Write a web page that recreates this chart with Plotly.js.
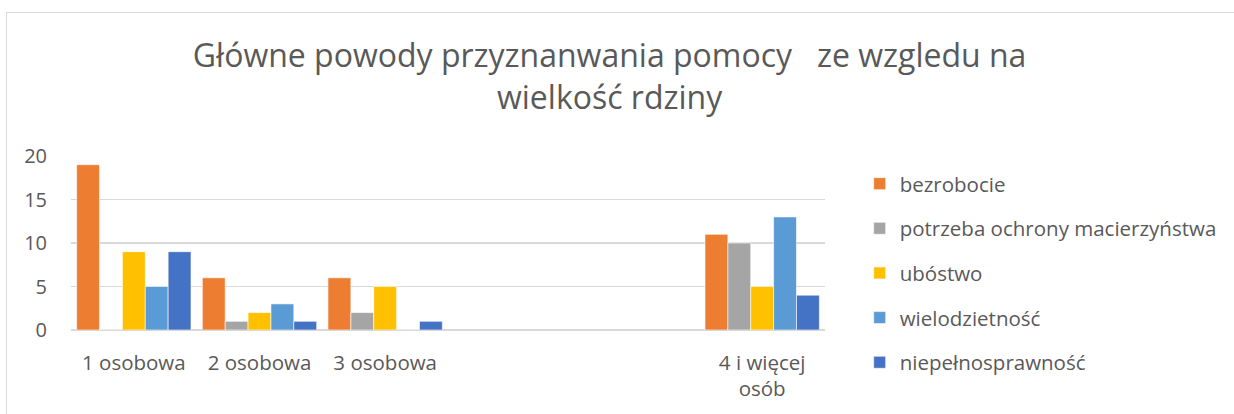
<!DOCTYPE html>
<html>
<head>
<meta charset="utf-8">
<script src="https://cdn.plot.ly/plotly-3.0.1.min.js"></script>
<style>
  html, body { margin: 0; padding: 0; background: #ffffff; }
  #frame { position: absolute; left: 6px; top: 12px; width: 1240px; height: 420px;
           border-left: 1px solid #d9d9d9; border-top: 1px solid #d9d9d9; }
  #chart { position: absolute; left: 0; top: 0; width: 1234px; height: 414px; }
</style>
</head>
<body>
<div id="frame"></div>
<div id="chart"></div>
<script>
const categories = ['1 osobowa', '2 osobowa', '3 osobowa', '', '', '4 i więcej<br>osób'];
const seriesNames = ['bezrobocie', 'potrzeba ochrony macierzyństwa', 'ubóstwo', 'wielodzietność', 'niepełnosprawność'];
const bezrobocie       = [19, 6, 6, null, null, 11];
const potrzebaOchrony  = [0, 1, 2, null, null, 10];
const ubostwo          = [9, 2, 5, null, null, 5];
const wielodzietnosc   = [5, 3, 0, null, null, 13];
const niepelnosprawnosc= [9, 1, 1, null, null, 4];
const colors = ['#ED7D31', '#A5A5A5', '#FFC000', '#5B9BD5', '#4472C4'];
const titleText = 'Główne powody przyznanwania pomocy   ze wzgledu na<br>wielkość rdziny';
const yTicks = [0, 5, 10, 15, 20];

const allSeries = [bezrobocie, potrzebaOchrony, ubostwo, wielodzietnosc, niepelnosprawnosc];
const xIdx = categories.map((c, i) => i);

const traces = allSeries.map((vals, k) => ({
  type: 'bar',
  name: seriesNames[k],
  legendgroup: 'g' + k,
  x: xIdx,
  y: vals,
  marker: { color: colors[k], line: { color: '#ffffff', width: 0.6 } },
  hoverinfo: 'x+y+name'
}));

const font = "'Open Sans', 'DejaVu Sans', sans-serif";
const layout = {
  width: 1234,
  height: 414,
  paper_bgcolor: 'rgba(0,0,0,0)',
  plot_bgcolor: 'rgba(0,0,0,0)',
  margin: { l: 71, r: 406, t: 156, b: 84, pad: 0 },
  font: { family: font, color: '#595959', size: 20 },
  title: {
    text: titleText,
    font: { family: font, size: 32, color: '#595959' },
    xref: 'container', yref: 'container',
    x: 0.494, xanchor: 'center',
    y: 1 - 67 / 414, yanchor: 'top'
  },
  barmode: 'group',
  bargap: 0.09,
  bargroupgap: 0,
  xaxis: {
    tickmode: 'array',
    tickvals: xIdx,
    ticktext: categories,
    range: [-0.5, categories.length - 0.5],
    showgrid: false,
    zeroline: false,
    showline: false,
    ticks: 'outside', ticklen: 14, tickcolor: 'rgba(0,0,0,0)',
    tickfont: { family: font, size: 20.5, color: '#595959' },
    fixedrange: true
  },
  yaxis: {
    range: [0, 20],
    tickmode: 'array',
    tickvals: yTicks,
    showgrid: true, gridcolor: '#d9d9d9', gridwidth: 1.3,
    zeroline: true, zerolinecolor: '#d9d9d9', zerolinewidth: 1.3,
    showline: false,
    ticks: 'outside', ticklen: 19, tickcolor: 'rgba(0,0,0,0)',
    tickfont: { family: font, size: 20, color: '#595959' },
    fixedrange: true
  },
  showlegend: true,
  legend: {
    x: 1.046, xanchor: 'left',
    y: 0.955, yanchor: 'top',
    font: { family: font, size: 20.5, color: '#595959' },
    tracegroupgap: 15,
    traceorder: 'grouped',
    maxheight: 600,
    bgcolor: 'rgba(0,0,0,0)'
  }
};

Plotly.newPlot('chart', traces, layout, { displayModeBar: false, staticPlot: true });
</script>
</body>
</html>
